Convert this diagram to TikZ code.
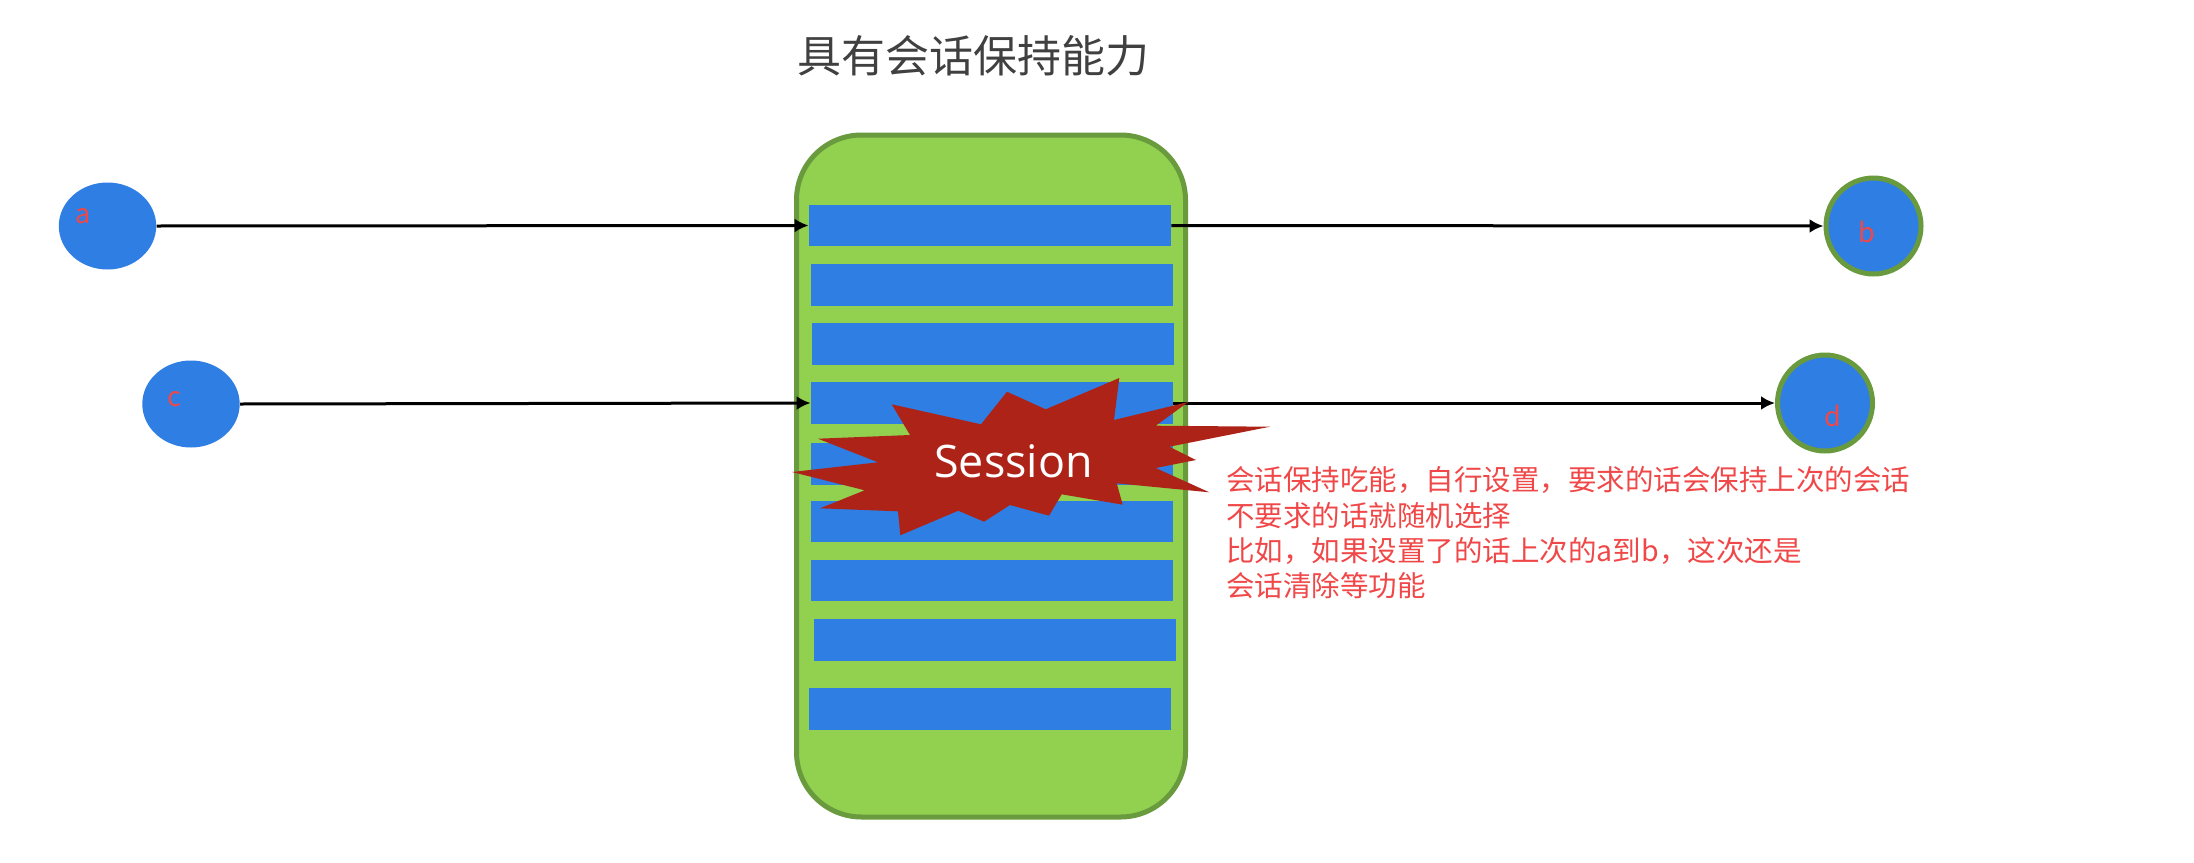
\documentclass[tikz,border=0pt]{standalone}
\usepackage{fontspec}
\setmainfont{Noto Sans CJK SC}
\newfontfamily\sessionfont{Open Sans}
\usetikzlibrary{arrows.meta, positioning, shapes.geometric}
\definecolor{mpanel}{HTML}{92D050}
\definecolor{mborder}{HTML}{6A9A3E}
\definecolor{mblue}{HTML}{2F7EE3}
\definecolor{mstar}{HTML}{AE2318}
\definecolor{mnote}{HTML}{F04848}
\tikzset{
  panelbox/.style={draw=mborder, fill=mpanel, rounded corners=32.5pt, line width=2.5pt,
                   minimum width=194.5pt, minimum height=341pt, inner sep=0pt},
  barbox/.style={fill=mblue, minimum width=181pt, minimum height=20.75pt, inner sep=0pt},
  srcnode/.style={ellipse, fill=mblue, minimum width=48.7pt, minimum height=43.5pt, inner sep=0pt},
  dstnode/.style={ellipse, draw=mborder, fill=mblue, line width=2.5pt,
                  minimum width=47.5pt, minimum height=48pt, inner sep=0pt},
  letter/.style={text=mnote, inner sep=0pt, font=\fontsize{13.5pt}{16pt}\selectfont},
  arr/.style={-{Latex[length=7pt,width=7pt]}, line width=1.5pt, black},
}

\begin{document}
\begin{tikzpicture}[x=0.5pt, y=-0.5pt]
  \useasboundingbox (0, 0) rectangle (2194, 862);

  %% Title
  \node[font=\fontsize{22pt}{26pt}\selectfont, text=black!75, inner sep=0pt] (title) at (973.5, 56) {具有会话保持能力};

  %% Panel
  \node[panelbox] (panel) at (991, 476) {};

  %% Bars
  \node[barbox] (bar1) at (990, 225.5) {};
  \node[barbox] (bar2) at (992, 285) {};
  \node[barbox] (bar3) at (992.5, 344) {};
  \node[barbox] (bar4) at (992, 403) {};
  \node[barbox] (bar5) at (992, 464) {};
  \node[barbox] (bar6) at (991.5, 521.5) {};
  \node[barbox] (bar7) at (991.5, 580.5) {};
  \node[barbox] (bar8) at (994.5, 640) {};
  \node[barbox] (bar9) at (990, 709) {};

  %% Clients
  \node[srcnode] (a) at (107.5, 226) {};
  \node[srcnode] (c) at (191, 404) {};
  \node[letter] (la) at (83, 216) {a};
  \node[letter] (lc) at (174, 399) {c};

  %% Servers
  \node[dstnode] (b) at (1873.5, 226) {};
  \node[dstnode] (d) at (1825, 403) {};
  \node[letter] (lb) at (1867, 232) {b};
  \node[letter] (ld) at (1832.5, 416) {d};

  %% Connections
  \draw[arr] (a.east) -- (bar1.west);
  \draw[arr] (bar1.east) -- (b.west);
  \draw[arr] (c.east) -- (bar4.west);
  \draw[arr] (bar4.east) -- (d.west);

  %% Session
  \fill[mstar] (891.7,404.3) -- (981,424.3) -- (1007,391.7) -- (1045.7,409.3) -- (1119.3,378) -- (1114,420)
    -- (1188.3,402) -- (1155.7,425.7) -- (1270,426.7) -- (1169.3,446.7) -- (1196,460) -- (1155.7,468)
    -- (1209.3,492.3) -- (1116.7,483.3) -- (1122.7,504.7) -- (1061.7,494.3) -- (1049,515.7) -- (1010,505)
    -- (984,521.7) -- (958.3,510.7) -- (900.3,535.3) -- (898,511.3) -- (820,508.3) -- (864.7,490.3)
    -- (792,472) -- (878,462.3) -- (818,438.7) -- (910,435) -- cycle;
  \node[text=white, inner sep=0pt, font=\sessionfont\fontsize{22.4pt}{26pt}\selectfont] (session) at (1013.5, 461) {Session};

  %% Note
  \node[anchor=north west, align=left, inner sep=0pt, text=mnote, font=\fontsize{14.25pt}{17.65pt}\selectfont] (note) at (1226, 466.5) {会话保持吃能，自行设置，要求的话会保持上次的会话\\不要求的话就随机选择\\比如，如果设置了的话上次的a到b，这次还是\\会话清除等功能};
\end{tikzpicture}
\end{document}
